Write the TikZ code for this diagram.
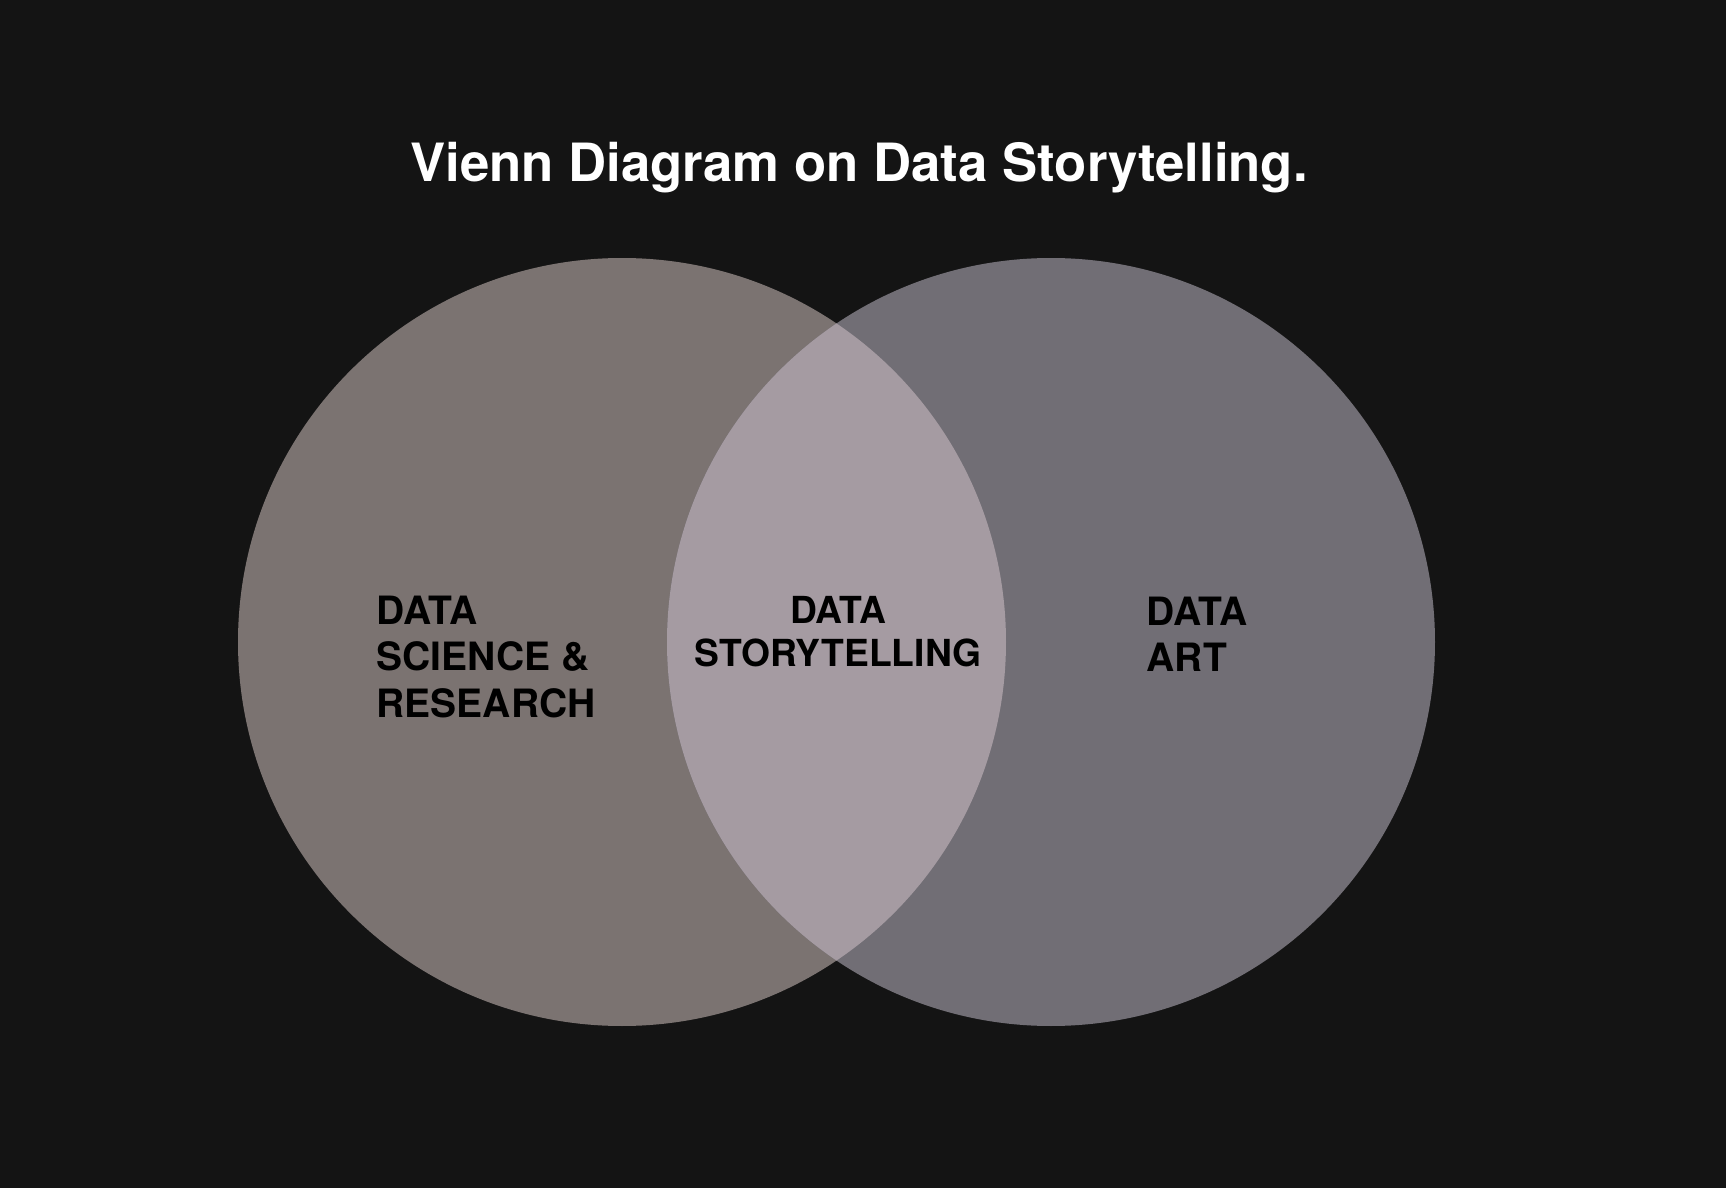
\documentclass[tikz,border=0pt]{standalone}
\usepackage{fontspec}
\setmainfont{TeX Gyre Heros}
\usepackage{tikz}
\definecolor{backdark}{HTML}{141414}
\definecolor{sciencegray}{HTML}{7B7371}
\definecolor{artgray}{HTML}{716E75}
\definecolor{storylilac}{HTML}{A59BA2}

\begin{document}
\begin{tikzpicture}[x=0.1mm,y=-0.1mm,
 every node/.style={font=\bfseries,text=black,inner sep=0pt},
 label/.style={font=\fontsize{11.1}{13.1}\selectfont\bfseries},
 midlabel/.style={font=\fontsize{10.6}{12.2}\selectfont\bfseries},
 title/.style={font=\fontsize{15}{18}\selectfont\bfseries,text=white}]
 \fill[backdark] (0,0) rectangle (1726,1188);
 \useasboundingbox (0,0) rectangle (1726,1188);
 \coordinate (sc) at (622,642);
 \coordinate (ac) at (1051,642);
 \fill[sciencegray] (sc) circle (384);
 \fill[artgray] (ac) circle (384);
 \begin{scope}
  \clip (sc) circle (384);
  \fill[storylilac] (ac) circle (384);
 \end{scope}
 \node[title] (head) at (859,168) {Vienn Diagram on Data Storytelling.};
 \node[label,align=left,anchor=west] (science) at (376,657) {DATA\\SCIENCE \&\\RESEARCH};
 \node[midlabel,align=center] (story) at (838,632) {DATA\\STORYTELLING};
 \node[label,align=left,anchor=west] (art) at (1146,634) {DATA\\ART};
\end{tikzpicture}
\end{document}
